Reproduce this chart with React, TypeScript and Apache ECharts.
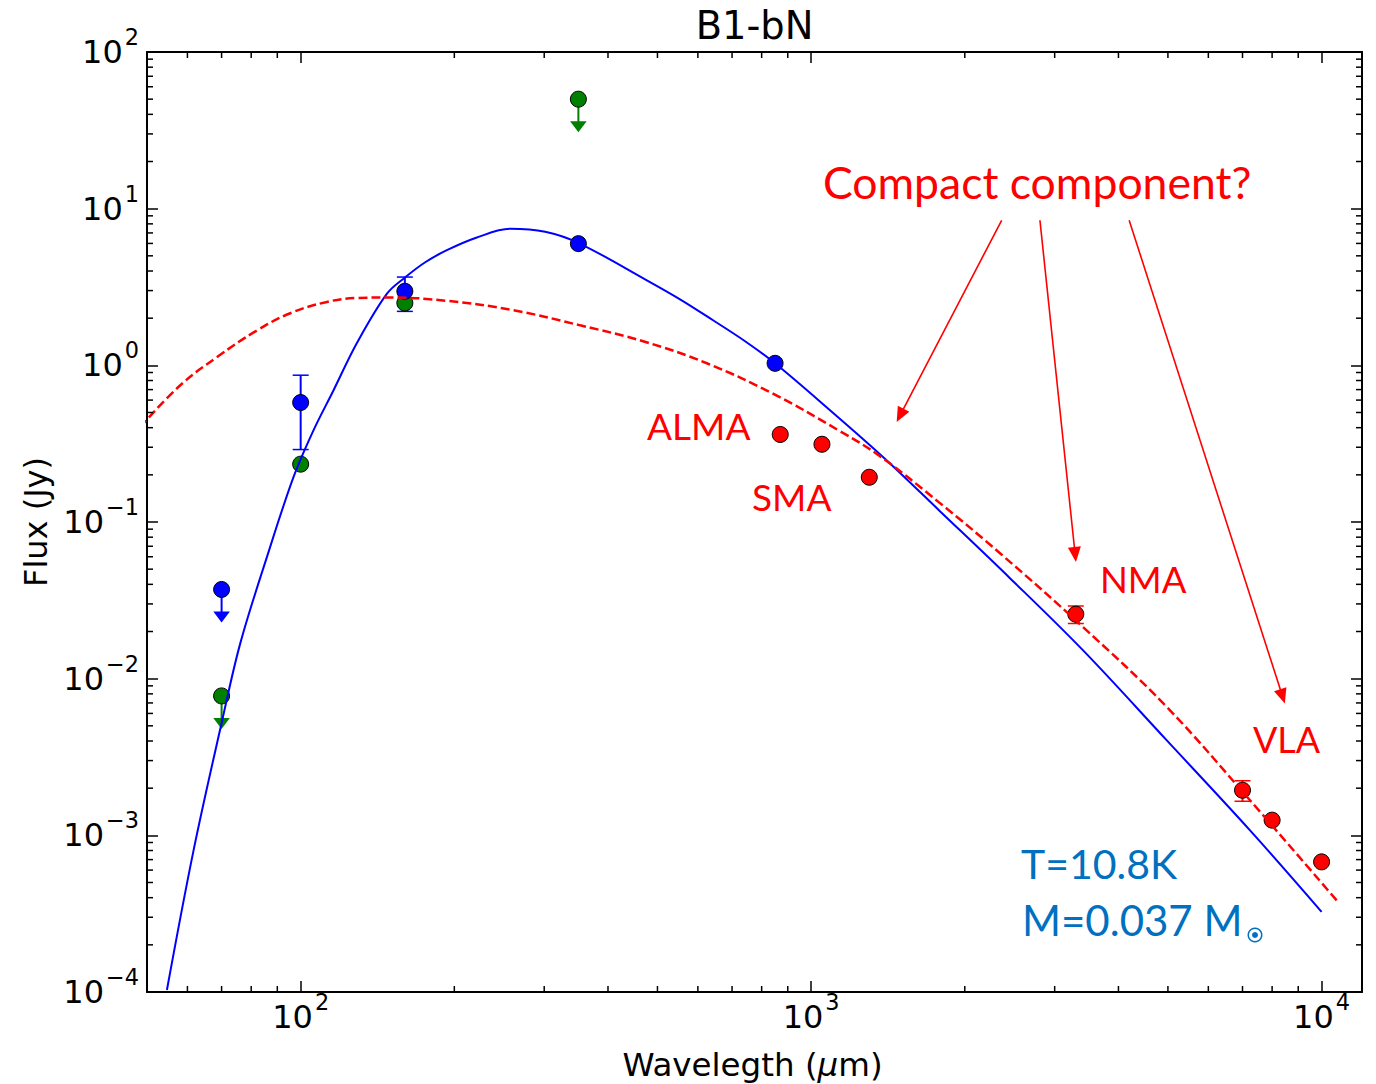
import { useEffect, useRef } from 'react';
import * as echarts from 'echarts';

// ---------------- data ----------------
const X_MIN = 50;
const X_MAX = 12000;
const Y_MIN = 1e-4;
const Y_MAX = 100;

// blue model curve (T=10.8K modified blackbody)
const blueModelWl = [54.7, 61.7, 70.2, 76.15, 85.9, 96.85, 106.0, 116.0, 128.8, 147.6, 160.3, 175.4, 193.4, 220.7, 257.3, 301.3, 351.2, 476.6, 553.6, 642.5, 742.4, 849.6, 1089, 1383, 1788, 2452, 3407, 4970, 7234, 10000];
const blueModelFlux = [1.03e-4, 8.05e-4, 5.43e-3, 0.0168, 0.0599, 0.194, 0.386, 0.694, 1.384, 2.87, 3.65, 4.55, 5.43, 6.52, 7.44, 7.12, 6.01, 3.49, 2.64, 1.94, 1.425, 1.031, 0.517, 0.26, 0.1172, 0.0438, 0.0152, 4.05e-3, 1.08e-3, 3.25e-4];

// red dashed model curve
const redModelWl = [48.5, 58.1, 68.6, 82.1, 95.4, 112.6, 128.8, 149.7, 193.4, 260.8, 352.8, 468.7, 624.6, 842.1, 1139, 1364, 1788, 2344, 3407, 4970, 7234, 10758];
const redModelFlux = [0.404, 0.746, 1.13, 1.67, 2.15, 2.54, 2.69, 2.71, 2.58, 2.25, 1.8, 1.425, 1.031, 0.659, 0.38, 0.263, 0.132, 0.0632, 0.0214, 6.61e-3, 1.68e-3, 3.77e-4];

// blue photometry
const blueWl = [70, 100, 160, 350, 850];
const blueFlux = [0.0371, 0.579, 2.97, 5.98, 1.03];
const blueIsUpperLimit = [true, false, false, false, false];
const blueErrLow = [null, 0.29, 2.21, null, null];
const blueErrHigh = [null, 0.865, 3.66, null, null];

// green photometry
const greenWl = [70, 100, 160, 350];
const greenFlux = [0.00776, 0.234, 2.5, 50];
const greenIsUpperLimit = [true, false, false, true];

// red (interferometer) photometry
const redWl = [870, 1050, 1300, 3300, 7000, 8000, 10000];
const redFlux = [0.362, 0.3135, 0.193, 0.0258, 0.00194, 0.00125, 0.000677];
const redErrLow = [null, null, null, 0.0225, 0.00165, null, null];
const redErrHigh = [null, null, null, 0.0291, 0.00223, null, null];

// "Compact component?" arrows (data coordinates)
const arrowStartWl = [2362, 2807, 4198];
const arrowStartFlux = [8.43, 8.43, 8.43];
const arrowEndWl = [1471, 3302, 8472];
const arrowEndFlux = [0.435, 0.0556, 6.95e-3];

// minor ticks
const xMinorTicks = [60, 70, 80, 90, 200, 300, 400, 500, 600, 700, 800, 900, 2000, 3000, 4000, 5000, 6000, 7000, 8000, 9000];
const yMinorTicks = [
  2e-4, 3e-4, 4e-4, 5e-4, 6e-4, 7e-4, 8e-4, 9e-4,
  2e-3, 3e-3, 4e-3, 5e-3, 6e-3, 7e-3, 8e-3, 9e-3,
  2e-2, 3e-2, 4e-2, 5e-2, 6e-2, 7e-2, 8e-2, 9e-2,
  0.2, 0.3, 0.4, 0.5, 0.6, 0.7, 0.8, 0.9,
  2, 3, 4, 5, 6, 7, 8, 9,
  20, 30, 40, 50, 60, 70, 80, 90,
];

// ---------------- helpers ----------------
const FONT = 'DejaVu Sans';
const ANN_FONT = 'Lato';
const BLUE = '#0000ff';
const GREEN = '#008000';
const RED = '#ff0000';
const TXT_BLUE = '#0070C0';

const tickFormatter = (v: number) => {
  const e = Math.log10(v);
  const r = Math.round(e);
  if (Math.abs(e - r) > 1e-6) return '';
  const ex = r < 0 ? '\u2212' + String(-r) : String(r);
  return '{b|10}{s|' + ex + '}';
};
const tickRich = {
  b: { fontSize: 32, lineHeight: 32, fontFamily: FONT, color: '#000' },
  s: { fontSize: 22.4, lineHeight: 22.4, verticalAlign: 'bottom', padding: [0, 0, 20, 2], fontFamily: FONT, color: '#000' },
};

const makeAxis = (min: number, max: number, position: string, showLabel: boolean, margin: number, hideEnds: boolean) => ({
  type: 'log',
  logBase: 10,
  min,
  max,
  position,
  axisLine: { show: true, onZero: false, lineStyle: { color: '#000', width: 2 } },
  axisTick: { show: true, inside: true, length: 11, lineStyle: { color: '#000', width: 1.5 } },
  axisLabel: {
    show: showLabel,
    formatter: tickFormatter,
    rich: tickRich,
    margin,
    showMinLabel: !hideEnds,
    showMaxLabel: !hideEnds,
  },
  splitLine: { show: false },
});

const errorBarSeries = (wl: number[], lo: (number | null)[], hi: (number | null)[], color: string) => ({
  type: 'custom',
  z: 2,
  data: wl
    .map((w, i) => (lo[i] != null && hi[i] != null ? [w, lo[i], hi[i]] : null))
    .filter((d) => d !== null),
  encode: { x: 0, y: [1, 2] },
  renderItem: (_params: any, api: any) => {
    const x = api.value(0);
    const p1 = api.coord([x, api.value(1)]);
    const p2 = api.coord([x, api.value(2)]);
    const hw = 8;
    return {
      type: 'group',
      children: [
        { type: 'line', shape: { x1: p1[0], y1: p1[1], x2: p2[0], y2: p2[1] }, style: { stroke: color, lineWidth: 2 } },
        { type: 'line', shape: { x1: p1[0] - hw, y1: p1[1], x2: p1[0] + hw, y2: p1[1] }, style: { stroke: color, lineWidth: 1.5 } },
        { type: 'line', shape: { x1: p2[0] - hw, y1: p2[1], x2: p2[0] + hw, y2: p2[1] }, style: { stroke: color, lineWidth: 1.5 } },
      ],
    };
  },
});

const upperLimitSeries = (wl: number[], flux: number[], flags: boolean[], color: string) => ({
  type: 'custom',
  z: 2,
  data: wl.map((w, i) => (flags[i] ? [w, flux[i]] : null)).filter((d) => d !== null),
  encode: { x: 0, y: 1 },
  renderItem: (_params: any, api: any) => {
    const p = api.coord([api.value(0), api.value(1)]);
    const top = p[1] + 22;
    const tip = p[1] + 33;
    const hw = 8.3;
    return {
      type: 'group',
      children: [
        { type: 'line', shape: { x1: p[0], y1: p[1], x2: p[0], y2: top + 1 }, style: { stroke: color, lineWidth: 2 } },
        { type: 'polygon', shape: { points: [[p[0] - hw, top], [p[0] + hw, top], [p[0], tip]] }, style: { fill: color } },
      ],
    };
  },
});

const scatterSeries = (wl: number[], flux: number[], color: string) => ({
  type: 'scatter',
  z: 3,
  symbol: 'circle',
  symbolSize: 16,
  data: wl.map((w, i) => [w, flux[i]]),
  itemStyle: { color, borderColor: '#000', borderWidth: 1, opacity: 1 },
});

const minorTickSeries = () => ({
  type: 'custom',
  z: 10,
  data: [
    ...xMinorTicks.map((v) => [v, 1, 0]),
    ...yMinorTicks.map((v) => [100, v, 1]),
  ],
  encode: { x: 0, y: 1 },
  renderItem: (params: any, api: any) => {
    const cs = params.coordSys;
    const kind = api.value(2);
    const p = api.coord([api.value(0), api.value(1)]);
    const L = 6;
    const st = { stroke: '#000', lineWidth: 1.5 };
    if (kind === 0) {
      const yb = cs.y + cs.height;
      return {
        type: 'group',
        children: [
          { type: 'line', shape: { x1: p[0], y1: yb, x2: p[0], y2: yb - L }, style: st },
          { type: 'line', shape: { x1: p[0], y1: cs.y, x2: p[0], y2: cs.y + L }, style: st },
        ],
      };
    }
    const xr = cs.x + cs.width;
    return {
      type: 'group',
      children: [
        { type: 'line', shape: { x1: cs.x, y1: p[1], x2: cs.x + L, y2: p[1] }, style: st },
        { type: 'line', shape: { x1: xr, y1: p[1], x2: xr - L, y2: p[1] }, style: st },
      ],
    };
  },
});

const annotationArrowSeries = () => ({
  type: 'custom',
  z: 6,
  data: arrowStartWl.map((w, i) => [w, arrowStartFlux[i], arrowEndWl[i], arrowEndFlux[i]]),
  encode: { x: [0, 2], y: [1, 3] },
  renderItem: (_params: any, api: any) => {
    const p1 = api.coord([api.value(0), api.value(1)]);
    const p2 = api.coord([api.value(2), api.value(3)]);
    const dx = p2[0] - p1[0];
    const dy = p2[1] - p1[1];
    const len = Math.hypot(dx, dy);
    const ux = dx / len;
    const uy = dy / len;
    const hl = 15;
    const hw = 6.5;
    const bx = p2[0] - ux * hl;
    const by = p2[1] - uy * hl;
    return {
      type: 'group',
      children: [
        { type: 'line', shape: { x1: p1[0], y1: p1[1], x2: bx + ux * 2, y2: by + uy * 2 }, style: { stroke: RED, lineWidth: 1.6 } },
        {
          type: 'polygon',
          shape: { points: [[p2[0], p2[1]], [bx - uy * hw, by + ux * hw], [bx + uy * hw, by - ux * hw]] },
          style: { fill: RED },
        },
      ],
    };
  },
});

const txt = (text: string, x: number, y: number, size: number, fill: string, family: string, align = 'left') => ({
  type: 'text',
  x,
  y,
  z: 20,
  style: {
    text,
    fill,
    fontSize: size,
    fontFamily: family,
    align,
    verticalAlign: 'middle',
  },
});

export default function App() {
  const ref = useRef<HTMLDivElement>(null);

  useEffect(() => {
    if (!ref.current) return;
    const chart = echarts.init(ref.current, null, { renderer: 'svg' });

    const option: any = {
      animation: false,
      backgroundColor: '#ffffff',
      grid: { left: 147, top: 52, width: 1215, height: 940, containLabel: false },
      xAxis: [makeAxis(X_MIN, X_MAX, 'bottom', true, 9, true), makeAxis(X_MIN, X_MAX, 'top', false, 8, true)],
      yAxis: [makeAxis(Y_MIN, Y_MAX, 'left', true, 8, false), makeAxis(Y_MIN, Y_MAX, 'right', false, 8, false)],
      series: [
        errorBarSeries(blueWl, blueErrLow, blueErrHigh, BLUE),
        errorBarSeries(redWl, redErrLow, redErrHigh, RED),
        upperLimitSeries(blueWl, blueFlux, blueIsUpperLimit, BLUE),
        upperLimitSeries(greenWl, greenFlux, greenIsUpperLimit, GREEN),
        scatterSeries(greenWl, greenFlux, GREEN),
        scatterSeries(blueWl, blueFlux, BLUE),
        scatterSeries(redWl, redFlux, RED),
        {
          type: 'line',
          z: 4,
          symbol: 'none',
          smooth: 0.35,
          data: blueModelWl.map((w, i) => [w, blueModelFlux[i]]),
          lineStyle: { color: BLUE, width: 2 },
        },
        {
          type: 'line',
          z: 5,
          symbol: 'none',
          smooth: 0.4,
          clip: false,
          data: redModelWl.map((w, i) => [w, redModelFlux[i]]),
          lineStyle: { color: RED, width: 2.5, type: [9, 4] },
        },
        annotationArrowSeries(),
        minorTickSeries(),
      ],
      graphic: [
        txt('B1-bN', 754.5, 25, 38.4, '#000', FONT, 'center'),
        {
          type: 'text',
          x: 752.5,
          y: 1065,
          z: 20,
          style: {
            text: 'Wavelegth ({i|\u03bc}m)',
            fill: '#000',
            fontSize: 32.5,
            fontFamily: FONT,
            align: 'center',
            verticalAlign: 'middle',
            rich: { i: { fontSize: 32.5, fontFamily: FONT, fontStyle: 'italic', fill: '#000' } },
          },
        },
        {
          type: 'text',
          x: 36,
          y: 522,
          rotation: Math.PI / 2,
          z: 20,
          style: { text: 'Flux (Jy)', fill: '#000', fontSize: 32, fontFamily: FONT, align: 'center', verticalAlign: 'middle' },
        },
        txt('Compact component?', 823, 181, 44.5, RED, ANN_FONT),
        txt('ALMA', 647, 425, 37, RED, ANN_FONT),
        txt('SMA', 752, 496, 37, RED, ANN_FONT),
        txt('NMA', 1100, 579, 36.5, RED, ANN_FONT),
        txt('VLA', 1253, 739, 36, RED, ANN_FONT),
        txt('T=10.8K', 1021, 863, 41, TXT_BLUE, ANN_FONT),
        txt('M=0.037 M', 1022, 920, 42, TXT_BLUE, ANN_FONT),
        { type: 'ring', z: 20, shape: { cx: 1255, cy: 935, r: 7.5, r0: 6 }, style: { fill: TXT_BLUE } },
        { type: 'circle', z: 20, shape: { cx: 1255, cy: 935, r: 3 }, style: { fill: TXT_BLUE } },
      ],
    };

    chart.setOption(option);
    return () => chart.dispose();
  }, []);

  return <div ref={ref} style={{ position: 'absolute', left: 0, top: 0, width: 1376, height: 1084 }} />;
}
